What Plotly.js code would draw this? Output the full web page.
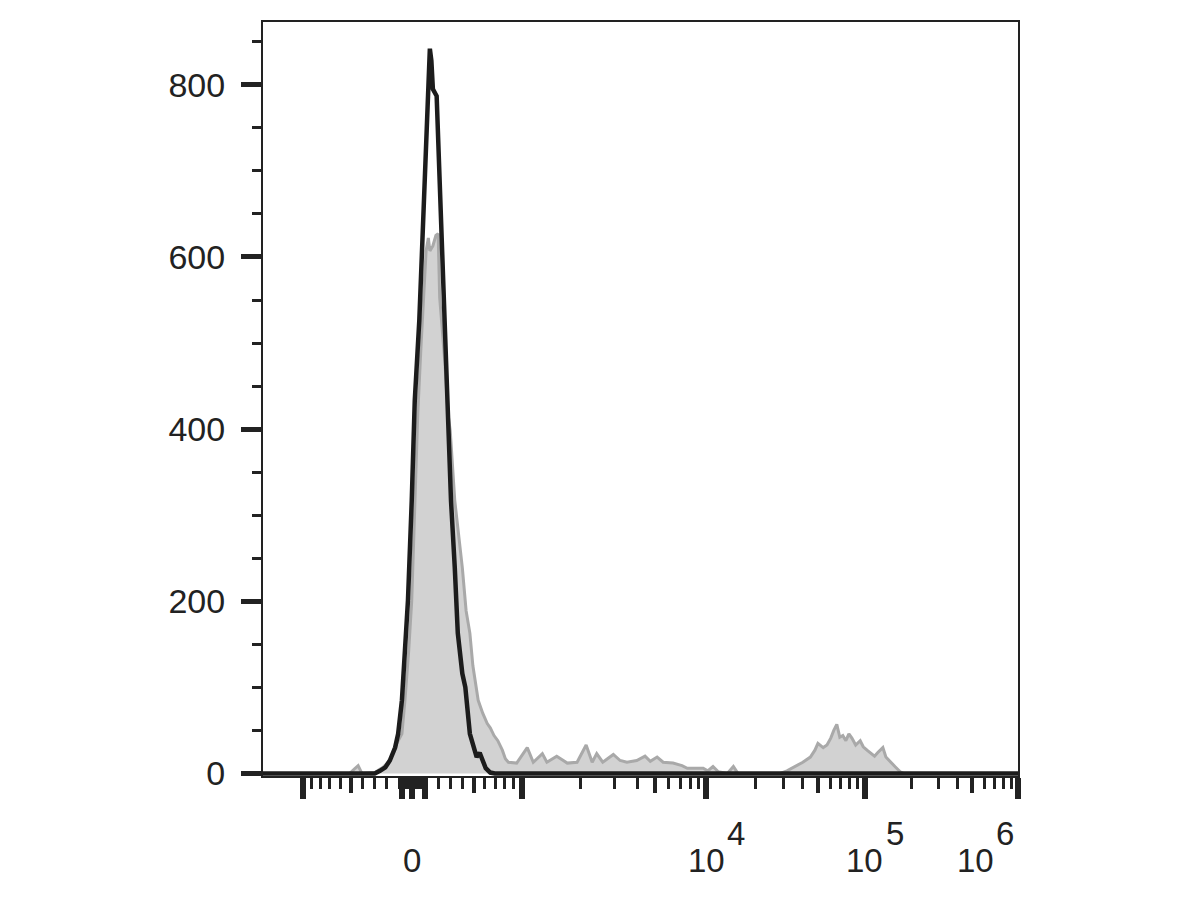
<!DOCTYPE html>
<html>
<head>
<meta charset="utf-8">
<script src="https://cdn.plot.ly/plotly-3.0.1.min.js"></script>
<style>html,body{margin:0;padding:0;background:#fff;}#chart{width:1200px;height:900px;}</style>
</head>
<body>
<div id="chart"></div>
<script>
// ---- data: histogram channels (display units 0-1000 along the biexponential axis) and event counts
const blackChannel = [0,148,155,162,168,175,179,184,188,192,197,201,207,212,216,219,221,223,225,230,233,237,240,244,249,254,258,264,268,274,279,283,287,291,295,301,307,1000];
const blackCount   = [0,0,3,7,15,30,46,85,143,201,317,433,526,631,735,793,842,828,795,787,712,631,538,433,317,239,163,116,100,46,29,19,24,13,6,1,0,0];

const grayChannel = [0,115,122,126,131,148,159,168,176,184,188,193,197,201,205,209,213,216,219,221,225,229,232,234,241,245,248,254,264,269,274,278,285,291,297,301,306,311,317,321,325,336,350,358,370,376,389,403,416,428,436,442,450,457,464,473,482,495,506,513,522,530,543,555,562,583,589,596,603,615,623,629,685,694,705,715,725,731,735,742,747,752,756,760,764,768,772,776,780,785,791,795,800,805,810,814,821,825,831,837,844,848,1000];
const grayCount   = [0,0,6,9,0,1,7,15,33,46,85,143,201,317,418,491,561,607,622,607,613,625,627,553,476,418,398,317,239,189,163,125,85,70,58,53,44,38,27,17,13,12,30,13,23,13,20,12,13,33,13,23,13,17,22,15,13,15,20,14,19,13,12,9,6,6,3,8,2,0,8,0,0,3,8,13,19,27,35,30,33,41,50,57,42,44,38,46,41,33,38,31,27,24,20,24,30,19,13,8,2,0,0];

// ---- axis ticks (fluorescence values)
const yMajorTicks = [0,200,400,600,800];
const yMinorTicks = [50,100,150,250,300,350,450,500,550,650,700,750,850];
const xLabelValues = [0, 1e4, 1e5, 1e6];
const xLabelBase   = ["0", "10", "10", "10"];
const xLabelExp    = ["", "4", "5", "6"];
const xLongTicks   = [-1000, -80, 0, 100, 1000, 1e4, 1e5, 1e6];
const xMediumTicks = [-500, 500, 5e3, 5e4, 5e5];
const xShortTicks  = [-900,-800,-700,-600,-400,-300,-200,
  -100,-90,-70,-60,-50,-40,-30,-20,-10,10,20,30,40,50,60,70,80,90,
  200,300,400,600,700,800,900,
  2e3,3e3,4e3,6e3,7e3,8e3,9e3,
  2e4,3e4,4e4,6e4,7e4,8e4,9e4,
  2e5,3e5,4e5,6e5,7e5,8e5,9e5];

// ---- logicle (biexponential) scale
function makeLogicle(T, W, M, A) {
  const N = M + A;
  const w = W / N, x2 = A / N, x1 = x2 + w, x0 = x2 + 2 * w;
  const b = N * Math.LN10;
  let d = b;
  if (w > 0) {
    let lo = 1e-9, hi = b;
    for (let i = 0; i < 200; i++) {
      const mid = (lo + hi) / 2;
      const g = 2 * (Math.log(mid) - Math.log(b)) + w * (b + mid);
      if (g > 0) hi = mid; else lo = mid;
    }
    d = (lo + hi) / 2;
  }
  const ca = Math.exp(x0 * (b + d));
  const mfa = Math.exp(b * x1) - ca / Math.exp(d * x1);
  const a = T / ((Math.exp(b) - mfa) - ca / Math.exp(d));
  const c = ca * a, f = -mfa * a;
  function S(x) {
    const neg = x < x1;
    const xx = neg ? 2 * x1 - x : x;
    const v = a * Math.exp(b * xx) - c * Math.exp(-d * xx) + f;
    return neg ? -v : v;
  }
  return function (v) {
    let lo = -1, hi = 2;
    for (let i = 0; i < 100; i++) {
      const mid = (lo + hi) / 2;
      if (S(mid) < v) lo = mid; else hi = mid;
    }
    return (lo + hi) / 2 * 1000; // display channel 0..1000
  };
}
const toChannel = makeLogicle(1e6, 0.92, 4.89, 0.06);

const W = 1200, H = 900;
const margin = {l: 263, r: 182, t: 22, b: 124};
const plotW = W - margin.l - margin.r;
const ink = '#222222';
const font = 'Liberation Sans, Arial, Helvetica, sans-serif';

const traces = [
  {x: grayChannel, y: grayCount, type: 'scatter', mode: 'lines', fill: 'tozeroy',
   fillcolor: '#d2d2d2', line: {color: '#a9a9a9', width: 3}, hoverinfo: 'skip', showlegend: false},
  {x: blackChannel, y: blackCount, type: 'scatter', mode: 'lines',
   line: {color: '#1c1c1c', width: 4.5}, hoverinfo: 'skip', showlegend: false},
  {x: [], y: [], xaxis: 'x2', yaxis: 'y', type: 'scatter', mode: 'lines', hoverinfo: 'skip', showlegend: false}
];

// x labels as annotations: "10" centred on the tick, exponent hanging to the right, clamped inside plot
const annotations = [];
xLabelValues.forEach((v, i) => {
  const ch = toChannel(v);
  const px = margin.l + ch / 1000 * plotW;
  let shift = 0;
  const rightEdge = px + (xLabelExp[i] ? 41 : 10);
  if (rightEdge > W - margin.r - 2) shift = (W - margin.r - 2) - rightEdge;
  annotations.push({x: ch, y: -0.085, xref: 'x', yref: 'paper', text: xLabelBase[i],
    showarrow: false, xanchor: 'center', yanchor: 'top', xshift: shift,
    font: {family: font, size: 33, color: ink}});
  if (xLabelExp[i]) {
    annotations.push({x: ch, y: -0.085, xref: 'x', yref: 'paper', text: xLabelExp[i],
      showarrow: false, xanchor: 'left', yanchor: 'top', xshift: shift + 19, yshift: 27,
      font: {family: font, size: 33, color: ink}});
  }
});

const layout = {
  width: W, height: H, margin: margin,
  paper_bgcolor: '#ffffff', plot_bgcolor: '#ffffff',
  showlegend: false,
  xaxis: {
    range: [0, 1000], autorange: false, fixedrange: true,
    tickmode: 'array', tickvals: xLongTicks.map(toChannel),
    ticks: 'outside', ticklen: 21, tickwidth: 6, tickcolor: ink,
    showticklabels: false, showgrid: false, zeroline: false,
    showline: true, linewidth: 2, linecolor: ink, mirror: true,
    minor: {tickmode: 'array', tickvals: xShortTicks.map(toChannel), ticks: 'outside',
            ticklen: 11, tickwidth: 3, tickcolor: ink, showgrid: false}
  },
  xaxis2: {
    overlaying: 'x', anchor: 'y', side: 'bottom',
    range: [0, 1000], autorange: false, fixedrange: true,
    tickmode: 'array', tickvals: xMediumTicks.map(toChannel),
    ticks: 'outside', ticklen: 16, tickwidth: 4, tickcolor: ink,
    showticklabels: false, showgrid: false, zeroline: false, showline: false
  },
  yaxis: {
    range: [-3, 873], autorange: false, fixedrange: true,
    tickmode: 'array', tickvals: yMajorTicks, ticktext: yMajorTicks.map(String),
    ticks: 'outside', ticklen: 20, tickwidth: 5, tickcolor: ink,
    ticklabelstandoff: 9,
    tickfont: {family: font, size: 34, color: ink},
    showgrid: false, zeroline: false,
    showline: true, linewidth: 2, linecolor: ink, mirror: true,
    minor: {tickmode: 'array', tickvals: yMinorTicks, ticks: 'outside',
            ticklen: 9, tickwidth: 3, tickcolor: ink, showgrid: false}
  },
  annotations: annotations
};

Plotly.newPlot('chart', traces, layout, {staticPlot: true, displayModeBar: false});
</script>
</body>
</html>
